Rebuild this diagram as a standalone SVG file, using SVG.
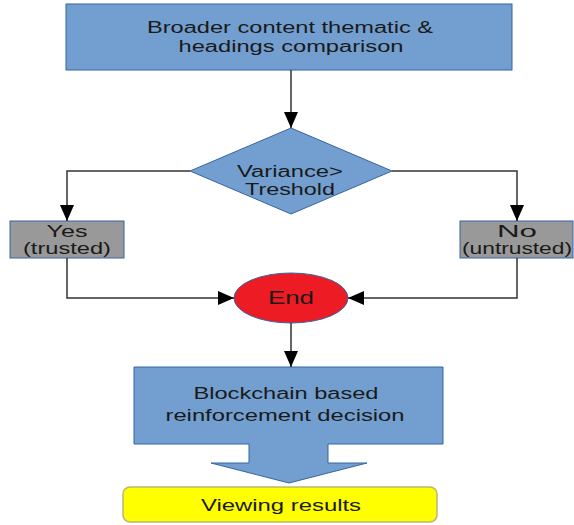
<svg xmlns="http://www.w3.org/2000/svg" width="574" height="525" viewBox="0 0 574 525">
<defs>
<marker id="ah" markerUnits="userSpaceOnUse" markerWidth="16" markerHeight="14" refX="16" refY="7" orient="auto"><path d="M0,0 L16,7 L0,14 Z" fill="#000"/></marker>
</defs>
<style>
.blue{fill:#729fcf;stroke:#3465a4;stroke-width:1}
.gray{fill:#999999;stroke:#3465a4;stroke-width:1}
.t{font-family:"Liberation Sans",Arial,sans-serif;font-size:16px;fill:#1a1a1a;text-anchor:middle}
.c{fill:none;stroke:#333;stroke-width:1.5}
</style>
<rect width="574" height="525" fill="#fff"/>
<g id="top">
<rect class="blue" x="66" y="4" width="446" height="66"/>
<text class="t" x="290" y="33" textLength="286" lengthAdjust="spacingAndGlyphs">Broader content thematic &amp;</text>
<text class="t" x="291" y="52" textLength="225" lengthAdjust="spacingAndGlyphs">headings comparison</text>
</g>
<g id="decision">
<path class="blue" d="M291,128 L392,171 L291,214 L190,171 Z"/>
<text class="t" x="290" y="177" textLength="106" lengthAdjust="spacingAndGlyphs">Variance&gt;</text>
<text class="t" x="290" y="195" textLength="90" lengthAdjust="spacingAndGlyphs">Treshold</text>
</g>
<g id="yes">
<rect class="gray" x="10" y="221" width="114" height="37"/>
<text class="t" x="67" y="237" textLength="41" lengthAdjust="spacingAndGlyphs">Yes</text>
<text class="t" x="67" y="254" textLength="88" lengthAdjust="spacingAndGlyphs">(trusted)</text>
</g>
<g id="no">
<rect class="gray" x="460" y="221" width="113" height="37"/>
<text class="t" x="517" y="237" textLength="40" lengthAdjust="spacingAndGlyphs">No</text>
<text class="t" x="517" y="254" textLength="110" lengthAdjust="spacingAndGlyphs">(untrusted)</text>
</g>
<g id="end">
<ellipse cx="291" cy="298" rx="57" ry="25" fill="#ed1c24" stroke="#3465a4" stroke-width="1"/>
<text class="t" x="291" y="304" font-size="18" style="font-size:18px" textLength="46" lengthAdjust="spacingAndGlyphs">End</text>
</g>
<g id="blockchain">
<path class="blue" d="M134,367 H443 V444 H328 V463 H367 L289,483 L211,463 H249 V444 H134 Z"/>
<text class="t" x="286" y="399" textLength="185" lengthAdjust="spacingAndGlyphs">Blockchain based</text>
<text class="t" x="285" y="421" textLength="239" lengthAdjust="spacingAndGlyphs">reinforcement decision</text>
</g>
<g id="results">
<rect x="123" y="487" width="314" height="35" rx="7" fill="#ffff00" stroke="#b8b870" stroke-width="1.5"/>
<text class="t" x="281" y="511" textLength="160" lengthAdjust="spacingAndGlyphs">Viewing results</text>
</g>
<g id="connectors">
<path class="c" d="M291,70 V128" marker-end="url(#ah)"/>
<path class="c" d="M190,171 H67 V221" marker-end="url(#ah)"/>
<path class="c" d="M392,171 H517 V221" marker-end="url(#ah)"/>
<path class="c" d="M67,258 V298 H234" marker-end="url(#ah)"/>
<path class="c" d="M517,258 V298 H348" marker-end="url(#ah)"/>
<path class="c" d="M291,323 V367" marker-end="url(#ah)"/>
</g>
</svg>
